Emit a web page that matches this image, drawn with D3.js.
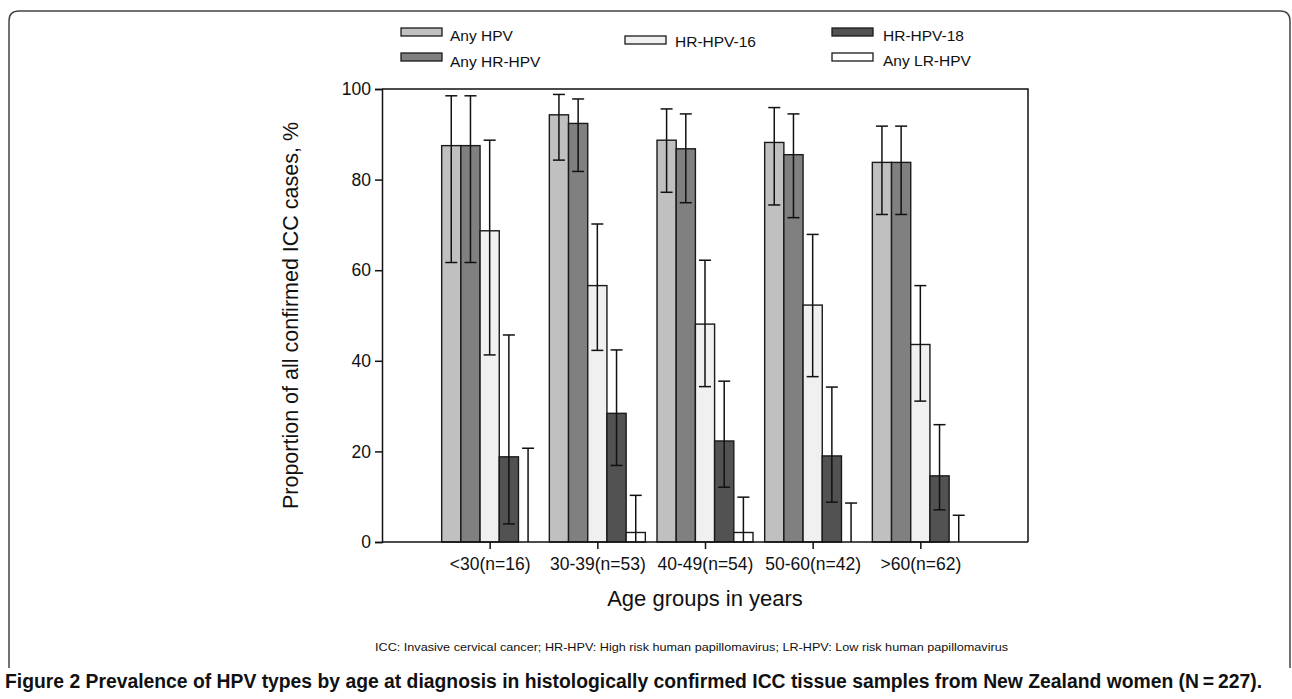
<!DOCTYPE html>
<html lang="en">
<head>
<meta charset="utf-8" />
<title>HPV prevalence by age</title>
<script src="https://cdn.jsdelivr.net/npm/d3@7"></script>
<style>
  body { margin: 0; background: #fff; font-family: "Liberation Sans", Arial, sans-serif; }
  svg text { fill: #111; }
  .axis path, .axis line { stroke: #111; stroke-width: 1.5px; }
</style>
</head>
<body>
<div id="chart"></div>
<script>
  var width = 1292, height = 699;

  var groups = ["<30(n=16)", "30-39(n=53)", "40-49(n=54)", "50-60(n=42)", ">60(n=62)"];
  var series = ["Any HPV", "Any HR-HPV", "HR-HPV-16", "HR-HPV-18", "Any LR-HPV"];
  var colors = ["#c0c0c0", "#808080", "#f0f0f0", "#525252", "#ffffff"];
  var yTicks = [0, 20, 40, 60, 80, 100];

  // bar heights (%) per series, one value per age group
  var anyHpv = [87.5, 94.3, 88.7, 88.2, 83.8];
  var anyHr  = [87.5, 92.4, 86.8, 85.5, 83.8];
  var hr16   = [68.7, 56.6, 48.1, 52.3, 43.6];
  var hr18   = [18.8, 28.4, 22.3, 19.0, 14.6];
  var anyLr  = [0, 2.1, 2.1, 0, 0];

  // 95% CI lower / upper
  var anyHpvLo = [61.7, 84.3, 77.2, 74.4, 72.3], anyHpvHi = [98.5, 98.8, 95.6, 95.9, 91.8];
  var anyHrLo  = [61.7, 81.8, 74.9, 71.6, 72.3], anyHrHi  = [98.5, 97.8, 94.5, 94.5, 91.8];
  var hr16Lo   = [41.3, 42.3, 34.3, 36.5, 31.1], hr16Hi   = [88.7, 70.2, 62.2, 67.9, 56.6];
  var hr18Lo   = [4.0, 16.9, 12.1, 8.8, 7.1],    hr18Hi   = [45.7, 42.4, 35.5, 34.2, 25.9];
  var anyLrLo  = [0, 0, 0, 0, 0],                anyLrHi  = [20.7, 10.3, 9.9, 8.6, 5.9];

  var vals = [anyHpv, anyHr, hr16, hr18, anyLr];
  var los = [anyHpvLo, anyHrLo, hr16Lo, hr18Lo, anyLrLo];
  var his = [anyHpvHi, anyHrHi, hr16Hi, hr18Hi, anyLrHi];

  var rows = [];
  groups.forEach(function(g, gi) {
    series.forEach(function(s, si) {
      rows.push({group: g, series: s, si: si, v: vals[si][gi], lo: los[si][gi], hi: his[si][gi]});
    });
  });

  var plot = {left: 382, right: 1028, top: 89, bottom: 542};

  var svg = d3.select("#chart").append("svg")
      .attr("width", width)
      .attr("height", height);

  // rounded figure frame, open at the bottom
  svg.append("path")
      .attr("d", "M9,668 V21 Q9,11 19,11 H1280 Q1290,11 1290,21 V668")
      .attr("fill", "none")
      .attr("stroke", "#444")
      .attr("stroke-width", 1.5);

  var x = d3.scalePoint().domain(groups).range([plot.left, plot.right]).padding(1);
  var xInner = d3.scaleBand().domain(series).range([-48, 48]);
  var y = d3.scaleLinear().domain([0, 100]).range([plot.bottom, plot.top]);

  // top and right frame of the plot
  svg.append("path")
      .attr("d", "M" + plot.left + "," + plot.top + " H" + plot.right + " V" + plot.bottom)
      .attr("fill", "none")
      .attr("stroke", "#111")
      .attr("stroke-width", 1.5);

  // bars
  svg.append("g").selectAll("rect")
      .data(rows.filter(function(d) { return d.v > 0; }))
      .enter().append("rect")
      .attr("x", function(d) { return x(d.group) + xInner(d.series); })
      .attr("width", xInner.bandwidth())
      .attr("y", function(d) { return y(d.v); })
      .attr("height", function(d) { return y(0) - y(d.v); })
      .attr("fill", function(d) { return colors[d.si]; })
      .attr("stroke", "#1a1a1a")
      .attr("stroke-width", 1.4);

  // error bars
  var eb = svg.append("g").attr("stroke", "#111").attr("stroke-width", 1.5);
  rows.forEach(function(d) {
    var cx = x(d.group) + xInner(d.series) + xInner.bandwidth() / 2;
    eb.append("line").attr("x1", cx).attr("x2", cx).attr("y1", y(d.lo)).attr("y2", y(d.hi));
    eb.append("line").attr("x1", cx - 6).attr("x2", cx + 6).attr("y1", y(d.hi)).attr("y2", y(d.hi));
    if (d.lo > 0) {
      eb.append("line").attr("x1", cx - 6).attr("x2", cx + 6).attr("y1", y(d.lo)).attr("y2", y(d.lo));
    }
  });

  // axes
  var xAxis = svg.append("g")
      .attr("class", "axis")
      .attr("transform", "translate(0," + plot.bottom + ")")
      .call(d3.axisBottom(x).tickSizeOuter(0).tickSize(7).tickPadding(9));
  xAxis.select(".domain").attr("d", "M" + plot.left + ",0H" + plot.right);
  xAxis.selectAll("text").attr("font-size", 17.5).attr("font-family", "Liberation Sans, Arial").attr("fill", "#111");

  var yAxis = svg.append("g")
      .attr("class", "axis")
      .attr("transform", "translate(" + plot.left + ",0)")
      .call(d3.axisLeft(y).tickValues(yTicks).tickSizeOuter(0).tickSize(7).tickPadding(4));
  yAxis.selectAll("text").attr("font-size", 17.5).attr("font-family", "Liberation Sans, Arial").attr("fill", "#111");

  // axis titles
  svg.append("text")
      .attr("x", (plot.left + plot.right) / 2)
      .attr("y", 606)
      .attr("text-anchor", "middle")
      .attr("font-size", 22)
      .text("Age groups in years");

  svg.append("text")
      .attr("transform", "translate(298," + ((plot.top + plot.bottom) / 2) + ") rotate(-90)")
      .attr("text-anchor", "middle")
      .attr("font-size", 21.5)
      .text("Proportion of all confirmed ICC cases, %");

  // legend
  var legendPos = [
    {x: 401, y: 28, tx: 450, ty: 41},
    {x: 401, y: 53, tx: 450, ty: 67},
    {x: 625, y: 36, tx: 675, ty: 47},
    {x: 832, y: 28, tx: 883, ty: 41},
    {x: 832, y: 53, tx: 883, ty: 66}
  ];
  var leg = svg.append("g");
  series.forEach(function(s, i) {
    var p = legendPos[i];
    leg.append("rect")
        .attr("x", p.x).attr("y", p.y)
        .attr("width", 41).attr("height", 8)
        .attr("fill", colors[i])
        .attr("stroke", "#1a1a1a")
        .attr("stroke-width", 1.3);
    leg.append("text")
        .attr("x", p.tx).attr("y", p.ty)
        .attr("font-size", 15.5)
        .text(s);
  });

  // footnote and caption
  svg.append("text")
      .attr("x", 375)
      .attr("y", 651)
      .attr("font-size", 11)
      .attr("textLength", 633)
      .attr("lengthAdjust", "spacingAndGlyphs")
      .attr("fill", "#333")
      .text("ICC: Invasive cervical cancer; HR-HPV: High risk human papillomavirus; LR-HPV: Low risk human papillomavirus");

  svg.append("text")
      .attr("x", 5)
      .attr("y", 688)
      .attr("font-size", 19.5)
      .attr("font-weight", "bold")
      .attr("font-family", "Liberation Sans Narrow, Liberation Sans, Arial")
      .attr("textLength", 1257)
      .attr("lengthAdjust", "spacingAndGlyphs")
      .attr("fill", "#231f20")
      .text("Figure 2 Prevalence of HPV types by age at diagnosis in histologically confirmed ICC tissue samples from New Zealand women (N\u2009=\u2009227).");
</script>
</body>
</html>
